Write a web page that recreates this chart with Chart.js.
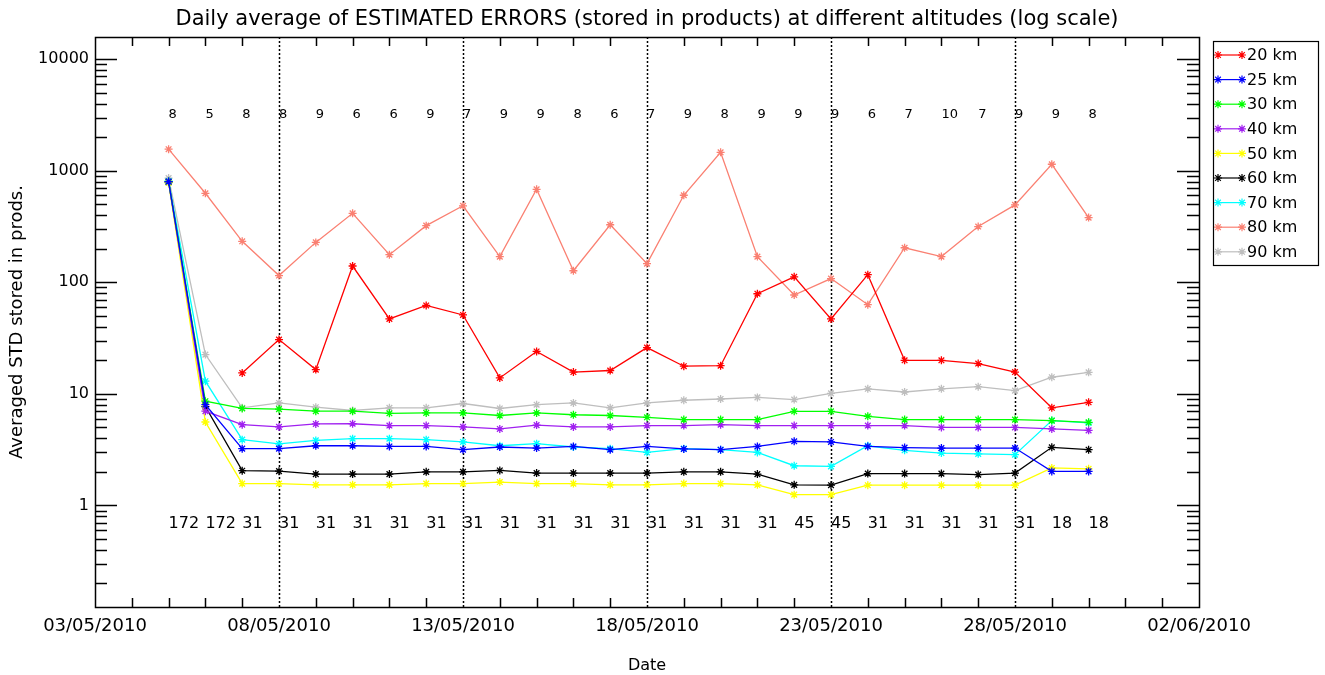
<!DOCTYPE html>
<html>
<head>
<meta charset="utf-8">
<script src="https://cdn.jsdelivr.net/npm/chart.js@4.4.1/dist/chart.umd.min.js"></script>
<style>
html,body{margin:0;padding:0;background:#ffffff;}
#wrap{width:1325px;height:675px;position:relative;}
</style>
</head>
<body>
<div id="wrap"><canvas id="c" width="1325" height="675"></canvas></div>
<script>
// ---------------- DATA ----------------
const dates = ['05/05/2010','06/05/2010','07/05/2010','08/05/2010','09/05/2010','10/05/2010','11/05/2010',
  '12/05/2010','13/05/2010','14/05/2010','15/05/2010','16/05/2010','17/05/2010','18/05/2010','19/05/2010',
  '20/05/2010','21/05/2010','22/05/2010','23/05/2010','24/05/2010','25/05/2010','26/05/2010','27/05/2010',
  '28/05/2010','29/05/2010','30/05/2010'];

const km20 = [null, null, 15.4, 30.7, 16.5, 140, 47, 62, 51, 13.9, 24, 15.7, 16.2, 26, 17.7, 17.9, 79, 112, 47, 117, 20, 20, 18.7, 15.7, 7.5, 8.4];
const km25 = [800, 8.0, 3.23, 3.23, 3.43, 3.43, 3.38, 3.38, 3.16, 3.34, 3.27, 3.38, 3.16, 3.38, 3.21, 3.16, 3.38, 3.76, 3.71, 3.38, 3.30, 3.27, 3.27, 3.27, 2.02, 2.02];
const km30 = [800, 8.6, 7.4, 7.3, 7.0, 7.0, 6.7, 6.75, 6.75, 6.4, 6.75, 6.5, 6.4, 6.17, 5.88, 5.88, 5.88, 6.98, 6.98, 6.3, 5.88, 5.88, 5.88, 5.88, 5.76, 5.56];
const km40 = [800, 7.0, 5.3, 5.06, 5.38, 5.4, 5.2, 5.2, 5.06, 4.85, 5.25, 5.06, 5.06, 5.2, 5.2, 5.3, 5.2, 5.2, 5.2, 5.2, 5.2, 5.0, 5.0, 5.0, 4.85, 4.71];
const km50 = [780, 5.6, 1.57, 1.57, 1.53, 1.53, 1.53, 1.57, 1.57, 1.62, 1.57, 1.57, 1.53, 1.53, 1.57, 1.57, 1.53, 1.25, 1.25, 1.52, 1.52, 1.52, 1.52, 1.52, 2.17, 2.13];
const km60 = [790, 7.7, 2.05, 2.03, 1.91, 1.91, 1.91, 2.0, 2.0, 2.06, 1.95, 1.95, 1.95, 1.95, 2.0, 2.0, 1.91, 1.53, 1.52, 1.93, 1.93, 1.93, 1.89, 1.95, 3.32, 3.16];
const km70 = [810, 13, 3.89, 3.56, 3.83, 3.97, 3.97, 3.89, 3.71, 3.43, 3.58, 3.34, 3.23, 2.99, 3.23, 3.16, 2.99, 2.27, 2.24, 3.43, 3.12, 2.95, 2.9, 2.85, 5.76, 5.5];
const km80 = [1560, 628, 233, 115, 228, 415, 177, 322, 485, 170, 682, 127, 328, 147, 603, 1462, 170, 77, 108, 63, 204, 170, 316, 494, 1143, 380];
const km90 = [860, 22.5, 7.5, 8.3, 7.6, 7.1, 7.5, 7.5, 8.2, 7.4, 8.0, 8.3, 7.5, 8.3, 8.77, 9.0, 9.3, 8.9, 10.1, 11.1, 10.4, 11.1, 11.6, 10.7, 14.1, 15.6];

const seriesLabels = ['20 km','25 km','30 km','40 km','50 km','60 km','70 km','80 km','90 km'];
const seriesColors = ['#ff0000','#0000ff','#00ff00','#a020f0','#ffff00','#000000','#00ffff','#fa8072','#bebebe'];
const seriesValues = [km20, km25, km30, km40, km50, km60, km70, km80, km90];

const topCounts = [8,5,8,8,9,6,6,9,7,9,9,8,6,7,9,8,9,9,9,6,7,10,7,9,9,8];
const bottomCounts = [172,172,31,31,31,31,31,31,31,31,31,31,31,31,31,31,31,45,45,31,31,31,31,31,18,18];

const axisStart = '03/05/2010';
const axisEnd = '02/06/2010';
const xTickStep = 5;            // days between labelled ticks
const yMin = 0.123, yMax = 15800;
const topCountLevel = 3200;     // data level where the top counts are written
const bottomCountLevel = 0.69;  // data level where the bottom counts are written

const titleText = 'Daily average of ESTIMATED ERRORS (stored in products) at different altitudes (log scale)';
const xTitle = 'Date';
const yTitle = 'Averaged STD stored in prods.';

// ---------------- HELPERS ----------------
const FONT = "'DejaVu Sans', 'Liberation Sans', sans-serif";
function parseDMY(s){ const [d,m,y] = s.split('/').map(Number); return Date.UTC(y, m-1, d); }
const t0 = parseDMY(axisStart);
const DAY = 86400000;
function dayOf(s){ return Math.round((parseDMY(s) - t0) / DAY); }
function fmtDay(v){
  const dt = new Date(t0 + v*DAY);
  const p = n => String(n).padStart(2,'0');
  return p(dt.getUTCDate()) + '/' + p(dt.getUTCMonth()+1) + '/' + dt.getUTCFullYear();
}
const xMax = dayOf(axisEnd);
const xs = dates.map(dayOf);

const yTickVals = [];
for (let k = -2; k <= 5; k++) for (let m = 1; m <= 9; m++) {
  const v = m * Math.pow(10, k);
  if (v >= yMin && v <= yMax) yTickVals.push(v);
}
const isPow10 = v => Math.abs(Math.log10(v) - Math.round(Math.log10(v))) < 1e-9;

function drawStar(ctx, x, y, r){
  ctx.beginPath();
  ctx.moveTo(x - r, y); ctx.lineTo(x + r, y);
  ctx.moveTo(x, y - r); ctx.lineTo(x, y + r);
  const d = r * Math.SQRT1_2;
  ctx.moveTo(x - d, y - d); ctx.lineTo(x + d, y + d);
  ctx.moveTo(x - d, y + d); ctx.lineTo(x + d, y - d);
  ctx.stroke();
}

// ---------------- PLUGIN ----------------
const overlay = {
  id: 'overlay',
  beforeDatasetsDraw(chart){
    const {ctx, chartArea: a, scales: {x}} = chart;
    ctx.save();
    ctx.strokeStyle = '#000';
    ctx.lineWidth = 1.5;
    ctx.setLineDash([2, 2]);
    for (let d = xTickStep; d < xMax; d += xTickStep) {
      const px = Math.round(x.getPixelForValue(d)) + 0.5;
      ctx.beginPath(); ctx.moveTo(px, a.top); ctx.lineTo(px, a.bottom); ctx.stroke();
    }
    ctx.restore();
  },
  afterDatasetsDraw(chart){
    const {ctx, chartArea: a, scales: {x, y}} = chart;
    ctx.save();
    ctx.strokeStyle = '#000';
    ctx.lineWidth = 1.5;
    for (let d = 1; d < xMax; d++) {
      if (d % xTickStep === 0) continue;
      const px = Math.round(x.getPixelForValue(d)) + 0.5;
      ctx.beginPath();
      ctx.moveTo(px, a.bottom); ctx.lineTo(px, a.bottom - 9);
      ctx.moveTo(px, a.top); ctx.lineTo(px, a.top + 9);
      ctx.stroke();
    }
    y.ticks.forEach(t => {
      const py = Math.round(y.getPixelForValue(t.value)) + 0.5;
      const len = isPow10(t.value) ? 22 : 12;
      ctx.beginPath();
      ctx.moveTo(a.left, py); ctx.lineTo(a.left + len, py);
      ctx.moveTo(a.right, py); ctx.lineTo(a.right - len, py);
      ctx.stroke();
    });
    ctx.strokeRect(Math.round(a.left)+0.5, Math.round(a.top)+0.5, Math.round(a.right - a.left), Math.round(a.bottom - a.top));

    ctx.fillStyle = '#000';
    ctx.textAlign = 'left';
    ctx.textBaseline = 'middle';
    ctx.font = '13px ' + FONT;
    const yTop = y.getPixelForValue(topCountLevel);
    topCounts.forEach((n, i) => ctx.fillText(String(n), x.getPixelForValue(xs[i]), yTop));
    ctx.font = '16px ' + FONT;
    const yBot = y.getPixelForValue(bottomCountLevel);
    bottomCounts.forEach((n, i) => ctx.fillText(String(n), x.getPixelForValue(xs[i]), yBot));

    const bx = a.right + 14, by = 41, bw = 105, bh = 224;
    ctx.lineWidth = 1.2;
    ctx.strokeRect(bx + 0.5, by + 0.5, bw, bh);
    ctx.font = '16px ' + FONT;
    seriesLabels.forEach((lab, i) => {
      const ry = by + 14 + i * 24.6;
      ctx.strokeStyle = seriesColors[i];
      ctx.lineWidth = 1.2;
      ctx.beginPath(); ctx.moveTo(bx + 5, ry); ctx.lineTo(bx + 29, ry); ctx.stroke();
      drawStar(ctx, bx + 5, ry, 4);
      drawStar(ctx, bx + 29, ry, 4);
      ctx.fillStyle = '#000';
      ctx.fillText(lab, bx + 34, ry + 1);
    });
    ctx.restore();
  }
};

// ---------------- CHART ----------------
const datasets = seriesLabels.map((lab, i) => ({
  label: lab,
  data: seriesValues[i].map((v, j) => ({x: xs[j], y: v})),
  borderColor: seriesColors[i],
  backgroundColor: seriesColors[i],
  borderWidth: 1.3,
  pointStyle: 'star',
  pointRadius: 4,
  pointBorderWidth: 1.3,
  pointBorderColor: seriesColors[i],
  tension: 0,
  spanGaps: false,
  fill: false
}));

new Chart(document.getElementById('c'), {
  type: 'line',
  data: { datasets },
  options: {
    responsive: false,
    animation: false,
    devicePixelRatio: 1,
    layout: { padding: { left: 0, right: 126, top: 0, bottom: 0 } },
    plugins: {
      legend: { display: false },
      tooltip: { enabled: false },
      title: {
        display: true, text: titleText, color: '#000', fullSize: false,
        font: { family: FONT, size: 21, weight: 'normal', lineHeight: 1.2 },
        padding: { top: 7, bottom: 4.8 }
      }
    },
    scales: {
      x: {
        type: 'linear', min: 0, max: xMax,
        afterFit(s){ s.height = 68; },
        afterBuildTicks(s){ const t = []; for (let d = 0; d <= xMax; d += xTickStep) t.push({value: d}); s.ticks = t; },
        ticks: { autoSkip: false, maxRotation: 0, padding: 9, color: '#000',
          font: { family: FONT, size: 18 }, callback: v => fmtDay(v) },
        grid: { display: false, drawTicks: false },
        border: { display: false },
        title: { display: true, text: xTitle, color: '#000', font: { family: FONT, size: 16 }, padding: { top: 0, bottom: 0 } }
      },
      y: {
        type: 'logarithmic', min: yMin, max: yMax,
        afterFit(s){ s.width = 95; },
        afterBuildTicks(s){ s.ticks = yTickVals.map(v => ({value: v})); },
        ticks: { autoSkip: false, padding: 6, color: '#000',
          font: { family: FONT, size: 16 }, callback: v => isPow10(v) ? String(Math.round(v)) : '' },
        grid: { display: false, drawTicks: false },
        border: { display: false },
        title: { display: true, text: yTitle, color: '#000', font: { family: FONT, size: 18 }, padding: { top: 7, bottom: 0 } }
      }
    }
  },
  plugins: [overlay]
});
</script>
</body>
</html>
